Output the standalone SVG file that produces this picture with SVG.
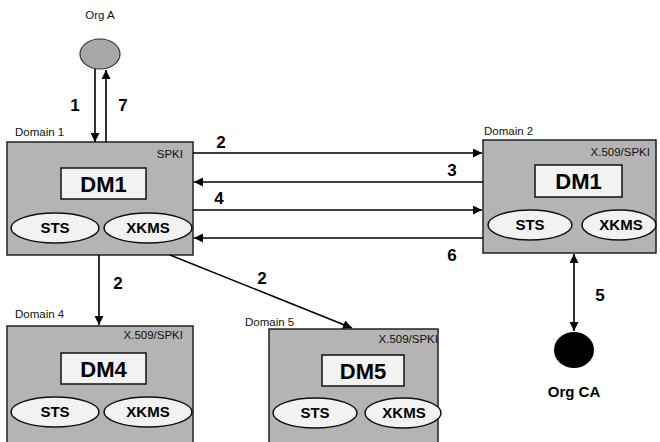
<svg xmlns="http://www.w3.org/2000/svg" width="660" height="442" viewBox="0 0 660 442">
<style>
.dom{fill:#b4b4b4;stroke:#222;stroke-width:1.5}
.dm{fill:#f2f2f2;stroke:#111;stroke-width:1.5}
.el{fill:#f2f2f2;stroke:#111;stroke-width:1.5}
.dl{font-family:"Liberation Sans",Arial,sans-serif;font-size:11.5px;fill:#111}
.dmt{font-family:"Liberation Sans",Arial,sans-serif;font-size:22px;font-weight:bold;fill:#000;text-anchor:middle}
.et{font-family:"Liberation Sans",Arial,sans-serif;font-size:15px;font-weight:bold;fill:#000;text-anchor:middle}
.num{font-family:"Liberation Sans",Arial,sans-serif;font-size:17px;font-weight:bold;fill:#000;text-anchor:middle}
.pk{font-family:"Liberation Sans",Arial,sans-serif;font-size:11.5px;fill:#111;text-anchor:end}
.ln{stroke:#000;stroke-width:1.6;fill:none}
</style>
<defs>
<marker id="ah" viewBox="0 0 10 10" refX="10" refY="5" markerWidth="9" markerHeight="9" markerUnits="userSpaceOnUse" orient="auto-start-reverse">
<path d="M0,0 L10,5 L0,10 z" fill="#000"/>
</marker>
</defs>
<rect width="660" height="442" fill="#fff"/>

<g id="orgA">
<text x="100" y="19" class="dl" text-anchor="middle">Org A</text>
<ellipse cx="100" cy="54" rx="20" ry="15" fill="#a8a8a8" stroke="#333" stroke-width="1.2"/>
</g>

<g id="domain1">
<text x="15" y="136" class="dl">Domain 1</text>
<rect x="7" y="142" width="186" height="113" class="dom"/>
<text x="183" y="158" class="pk">SPKI</text>
<rect x="61" y="168" width="85" height="31" class="dm"/>
<text x="103.5" y="192" class="dmt">DM1</text>
<ellipse cx="55" cy="228" rx="44" ry="15" class="el"/>
<text x="55" y="233" class="et">STS</text>
<ellipse cx="148" cy="228" rx="44" ry="15" class="el"/>
<text x="148" y="233" class="et">XKMS</text>
</g>

<g id="domain2">
<text x="484" y="135" class="dl">Domain 2</text>
<rect x="483" y="140" width="173" height="113" class="dom"/>
<text x="650" y="156" class="pk">X.509/SPKI</text>
<rect x="535" y="165" width="87" height="32" class="dm"/>
<text x="578.5" y="189" class="dmt">DM1</text>
<ellipse cx="530" cy="225" rx="42" ry="15" class="el"/>
<text x="530" y="230" class="et">STS</text>
<ellipse cx="619" cy="225" rx="37" ry="15" class="el"/>
<text x="621" y="230" class="et">XKMS</text>
</g>

<g id="domain4">
<text x="15" y="318" class="dl">Domain 4</text>
<rect x="7" y="326" width="186" height="118" class="dom"/>
<text x="183" y="339" class="pk">X.509/SPKI</text>
<rect x="61" y="353" width="85" height="31" class="dm"/>
<text x="103.5" y="377" class="dmt">DM4</text>
<ellipse cx="55" cy="412" rx="44" ry="15" class="el"/>
<text x="55" y="417" class="et">STS</text>
<ellipse cx="148" cy="412" rx="44" ry="15" class="el"/>
<text x="148" y="417" class="et">XKMS</text>
</g>

<g id="domain5">
<text x="245" y="326" class="dl">Domain 5</text>
<rect x="269" y="329" width="169" height="115" class="dom"/>
<text x="438" y="343" class="pk">X.509/SPKI</text>
<rect x="322" y="355" width="82" height="31" class="dm"/>
<text x="363" y="379" class="dmt">DM5</text>
<ellipse cx="315" cy="413" rx="42" ry="15" class="el"/>
<text x="315" y="418" class="et">STS</text>
<ellipse cx="403" cy="413" rx="38" ry="15" class="el"/>
<text x="404" y="418" class="et">XKMS</text>
</g>

<g id="orgCA">
<ellipse cx="574" cy="350" rx="20" ry="18" fill="#000"/>
<text x="574" y="397" class="et">Org CA</text>
</g>

<g id="connectors">
<line x1="95" y1="69" x2="95" y2="142" class="ln" marker-end="url(#ah)"/>
<line x1="106" y1="142" x2="106" y2="70" class="ln" marker-end="url(#ah)"/>
<line x1="193" y1="153" x2="482" y2="153" class="ln" marker-end="url(#ah)"/>
<line x1="483" y1="182" x2="194" y2="182" class="ln" marker-end="url(#ah)"/>
<line x1="193" y1="210" x2="482" y2="210" class="ln" marker-end="url(#ah)"/>
<line x1="483" y1="238" x2="194" y2="238" class="ln" marker-end="url(#ah)"/>
<line x1="99" y1="255" x2="99" y2="325" class="ln" marker-end="url(#ah)"/>
<line x1="170" y1="255" x2="352" y2="328" class="ln" marker-end="url(#ah)"/>
<line x1="574" y1="254" x2="574" y2="331" class="ln" marker-start="url(#ah)" marker-end="url(#ah)"/>
<text x="75" y="111" class="num">1</text>
<text x="123" y="111" class="num">7</text>
<text x="221" y="148" class="num">2</text>
<text x="452" y="176" class="num">3</text>
<text x="219" y="204" class="num">4</text>
<text x="452" y="261" class="num">6</text>
<text x="118" y="289" class="num">2</text>
<text x="262" y="284" class="num">2</text>
<text x="600" y="301" class="num">5</text>
</g>
</svg>
